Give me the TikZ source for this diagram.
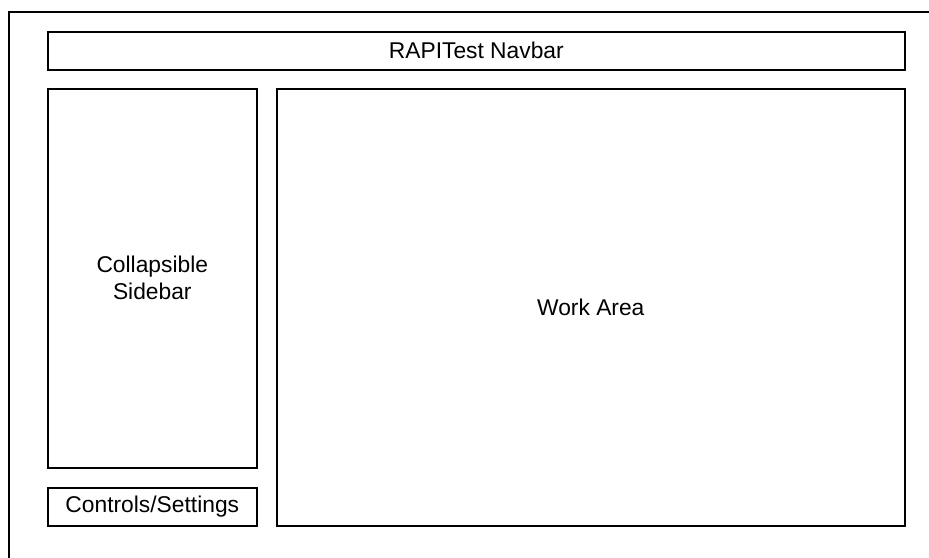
\documentclass[tikz,border=0pt]{standalone}
\usepackage{fontspec}
\setmainfont{Liberation Sans}
\usetikzlibrary{positioning}
\tikzset{
  panel/.style={draw, line width=1.6pt, rectangle, inner sep=0pt, anchor=north west,
    font=\fontsize{22.8}{27}\selectfont, align=center},
}

\begin{document}
\begin{tikzpicture}[x=1pt,y=-1pt]
\clip (0,0) rectangle (929,557);
\useasboundingbox (0,0) rectangle (929,557);
% outer frame, runs off right and bottom
\draw[line width=1.6pt] (9,12) rectangle (960,600);

\node[panel, minimum width=857pt, minimum height=38pt] (navbar) at (47,31) {RAPITest Navbar};
\node[panel, minimum width=209pt, minimum height=379pt] (sidebar) at (47,88) {Collapsible\\Sidebar};
\node[panel, minimum width=209pt, minimum height=38pt] (controls) at (47,487) {Controls/Settings};
\node[panel, minimum width=628pt, minimum height=437pt] (workarea) at (276,88) {Work Area};
\end{tikzpicture}
\end{document}
